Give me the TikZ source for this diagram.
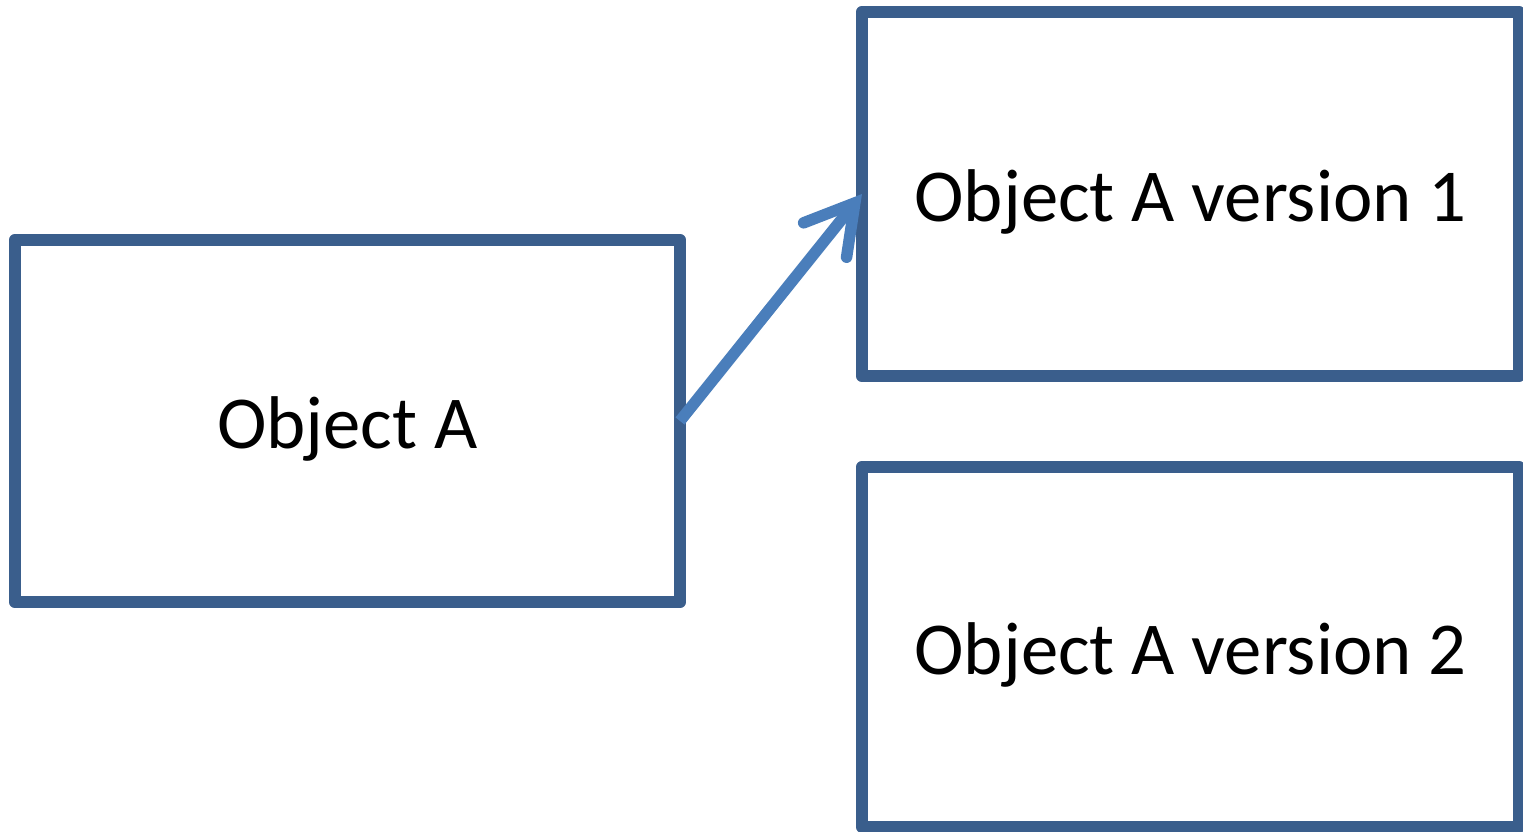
\documentclass[tikz,border=0pt]{standalone}
\usepackage{fontspec}
\setmainfont{Carlito}
\usetikzlibrary{arrows.meta}
\definecolor{boxblue}{HTML}{3A5E8C}
\definecolor{arrowblue}{HTML}{4A7EBB}
\begin{document}
\begin{tikzpicture}[
        objbox/.style={draw=boxblue, line width=0.25cm, line join=round, outer sep=0pt, fill=white, font=\fontsize{42.5}{50}\selectfont, text height=1.25cm, text depth=0.15cm},
        link/.style={draw=arrowblue, line width=0.23cm, -{Straight Barb[length=0.95cm, width=1.1cm, line width=0pt 1, line cap=round]}}
    ]
        \useasboundingbox (0, 0) rectangle (30.46, 16.62);
        \node[objbox, minimum width=13.3cm, minimum height=7.24cm] (objA) at (6.95, 8.2) {Object A};
        \node[objbox, minimum width=13.14cm, minimum height=7.28cm] (objAv1) at (23.81, 12.74) {Object A version 1};
        \node[objbox, minimum width=13.14cm, minimum height=7.2cm] (objAv2) at (23.81, 3.68) {Object A version 2};
        \draw[link] (objA.east) -- (objAv1.west);
    \end{tikzpicture}
\end{document}
